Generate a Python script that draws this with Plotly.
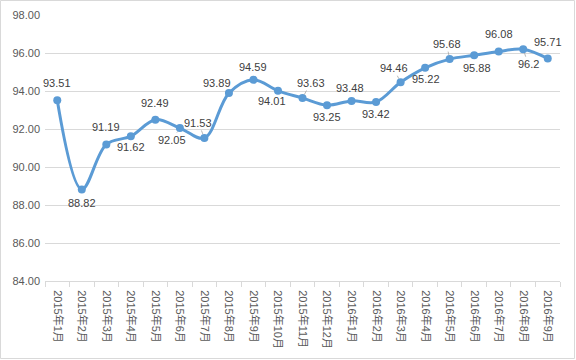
import plotly.graph_objects as go

months = ["2015年1月", "2015年2月", "2015年3月", "2015年4月", "2015年5月", "2015年6月",
          "2015年7月", "2015年8月", "2015年9月", "2015年10月", "2015年11月", "2015年12月",
          "2016年1月", "2016年2月", "2016年3月", "2016年4月", "2016年5月", "2016年6月",
          "2016年7月", "2016年8月", "2016年9月"]
values = [93.51, 88.82, 91.19, 91.62, 92.49, 92.05, 91.53, 93.89, 94.59, 94.01, 93.63,
          93.25, 93.48, 93.42, 94.46, 95.22, 95.68, 95.88, 96.08, 96.2, 95.71]
labels = ["93.51", "88.82", "91.19", "91.62", "92.49", "92.05", "91.53", "93.89", "94.59",
          "94.01", "93.63", "93.25", "93.48", "93.42", "94.46", "95.22", "95.68", "95.88",
          "96.08", "96.2", "95.71"]
y_ticks = [84, 86, 88, 90, 92, 94, 96, 98]

# label offsets in pixels (dx, dy; dy positive = down) and whether a leader line shows
offsets = [(0, -17), (0, 14), (0, -17), (0, 11), (0, -17), (-8, 12), (-6, -15), (-12, -10),
           (0, -13), (-6, 10), (8, -15), (0, 12), (-2, -13), (0, 12), (-7, -14), (1, 11),
           (-3, -15), (3, 13), (0, -17), (5, 15), (0, -17)]
leaders = [False, False, False, False, False, True, True, True, False, False, True, False,
           False, False, True, False, True, False, False, True, False]

FONT = "Liberation Sans, Noto Sans CJK SC, sans-serif"
TXT = "#595959"
GRID = "#d9d9d9"

fig = go.Figure()
fig.add_trace(go.Scatter(
    x=months, y=values, mode="lines+markers",
    line=dict(color="#5B9BD5", width=3, shape="spline", smoothing=1.0),
    marker=dict(color="#5B9BD5", size=8),
    hoverinfo="x+y", showlegend=False,
))

annotations = []
for m, v, t, (dx, dy), ld in zip(months, values, labels, offsets, leaders):
    if ld:
        annotations.append(dict(x=m, y=v, text=t, showarrow=True, ax=dx, ay=dy,
                                arrowhead=0, arrowwidth=0.8, arrowcolor="#a6a6a6",
                                standoff=4, font=dict(family=FONT, size=11, color="#404040")))
    else:
        annotations.append(dict(x=m, y=v, text=t, showarrow=False, xshift=dx, yshift=-dy,
                                font=dict(family=FONT, size=11, color="#404040")))

W, H = 576, 360
ml, mr, mt, mb = 45, 16, 15, 79
pw, ph = W - ml - mr, H - mt - mb

fig.update_layout(
    width=W, height=H,
    margin=dict(l=ml, r=mr, t=mt, b=mb, autoexpand=False),
    paper_bgcolor="white", plot_bgcolor="white",
    font=dict(family=FONT, size=11, color=TXT),
    annotations=annotations,
    shapes=[dict(type="rect", xref="paper", yref="paper",
                 x0=-(ml - 0.5) / pw, x1=1 + (mr - 1.5) / pw,
                 y0=-(mb - 1.5) / ph, y1=1 + (mt - 0.5) / ph,
                 line=dict(color=GRID, width=1), fillcolor="rgba(0,0,0,0)", layer="below")],
    xaxis=dict(
        type="category", range=[-0.5, len(months) - 0.5], automargin=False,
        showgrid=False, showline=True, linecolor=GRID, linewidth=1,
        ticks="outside", ticklen=5, tickcolor=GRID, tickson="boundaries",
        tickangle=90, ticklabelstandoff=6,
        tickfont=dict(family=FONT, size=11, color=TXT),
        fixedrange=True,
    ),
    yaxis=dict(
        range=[84, 98], tickvals=y_ticks, tickformat=".2f", automargin=False,
        showgrid=True, gridcolor=GRID, gridwidth=1,
        zeroline=False, showline=False, ticks="", ticklabelstandoff=4,
        tickfont=dict(family=FONT, size=11, color=TXT),
        fixedrange=True,
    ),
)

fig.write_html("out.html", config={"displayModeBar": False},
               post_script="document.body.style.margin='0';document.body.style.overflow='hidden';")
